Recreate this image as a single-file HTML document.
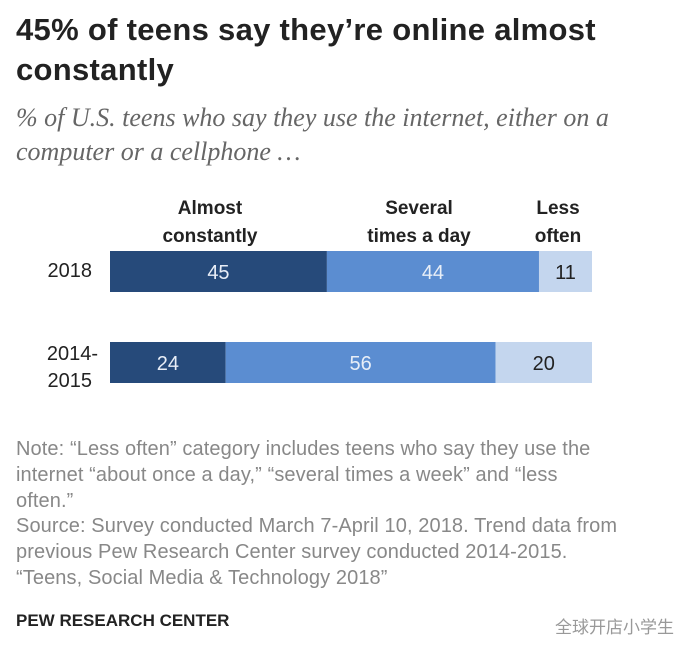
<!DOCTYPE html>
<html><head><meta charset="utf-8"><style>
body{margin:0;width:696px;height:654px;background:#fff;font-family:"Liberation Sans","Noto Sans CJK SC",sans-serif;position:relative;overflow:hidden}
.a{position:absolute;margin:0;white-space:nowrap}
h1{position:absolute;left:16px;top:10px;margin:0;font-size:31px;line-height:40px;font-weight:bold;color:#222;letter-spacing:0.3px;white-space:nowrap}
.sub{left:16px;top:101px;font-family:"Liberation Serif",serif;font-style:italic;font-size:26px;line-height:34px;color:#666}
.note{left:16px;top:437px;font-size:20px;line-height:25.8px;color:#888;letter-spacing:0.1px}
</style></head><body>
<h1>45% of teens say they’re online almost<br>constantly</h1>
<p class="a sub">% of U.S. teens who say they use the internet, either on a<br>computer or a cellphone …</p>
<svg class="a" style="left:0;top:0" width="696" height="420"></svg>
<p class="a note">Note: “Less often” category includes teens who say they use the<br>internet “about once a day,” “several times a week” and “less<br>often.”<br>Source: Survey conducted March 7-April 10, 2018. Trend data from<br>previous Pew Research Center survey conducted 2014-2015.<br>“Teens, Social Media &amp; Technology 2018”</p>
<p class="a" style="left:16px;top:611px;font-size:17px;font-weight:bold;color:#222">PEW RESEARCH CENTER</p>
<p class="a" style="left:555px;top:613px;font-size:17px;color:#999">全球开店小学生</p>
<script>
const rows=["2018","2014-2015"];
const seriesNames=["Almost constantly","Several times a day","Less often"];
const almost=[45,24];
const several=[44,56];
const less=[11,20];
const svg=document.querySelector('svg');
const NS='http://www.w3.org/2000/svg';
const x0=110,x1=592;
const xs=v=>x0+(x1-x0)*v/100;
const rowY=[251,342],bh=41;
const colors=["#264a7a","#5b8dd1","#c4d6ee"];
const tcol=["#e8eef7","#e8eef7","#222"];
function t(x,y,s,o){const e=document.createElementNS(NS,'text');e.setAttribute('x',x);e.setAttribute('y',y);e.textContent=s;for(const k in o)e.setAttribute(k,o[k]);svg.appendChild(e);return e;}
const series=[almost,several,less];
rows.forEach((r,i)=>{
  let acc=0;
  series.forEach((s,j)=>{
    const v=s[i];
    const rc=document.createElementNS(NS,'rect');
    rc.setAttribute('x',xs(acc));rc.setAttribute('y',rowY[i]);rc.setAttribute('width',xs(acc+v)-xs(acc));rc.setAttribute('height',bh);rc.setAttribute('fill',colors[j]);
    
    
    svg.appendChild(rc);
    const lb=t((xs(acc)+xs(acc+v))/2,rowY[i]+28,String(v),{'text-anchor':'middle','font-size':'20','fill':tcol[j],'font-family':'Liberation Sans'});
    
    
    acc+=v;
  });
});
const y1=t(92,277,"2018",{'text-anchor':'end','font-size':'20','fill':'#222'});


const y2=t(98,360,"2014-",{'text-anchor':'end','font-size':'20','fill':'#222'});


t(92,387,"2015",{'text-anchor':'end','font-size':'20','fill':'#222'});
const heads=[[210,"Almost","constantly"],[419,"Several","times a day"],[558,"Less","often"]];
heads.forEach(h=>{
  const a=t(h[0],214,h[1],{'text-anchor':'middle','font-size':'19','font-weight':'bold','fill':'#222'});
  
  
  t(h[0],242,h[2],{'text-anchor':'middle','font-size':'19','font-weight':'bold','fill':'#222'});
});
</script>
</body></html>
